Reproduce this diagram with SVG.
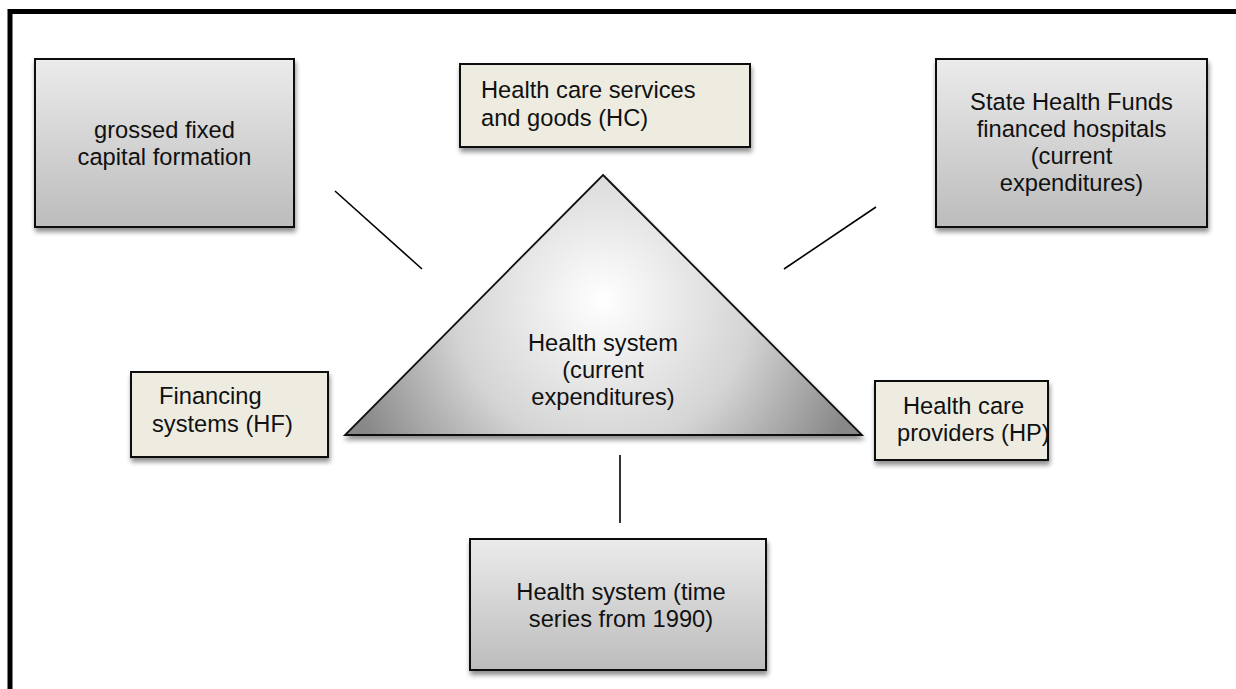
<svg xmlns="http://www.w3.org/2000/svg" width="1236" height="689" viewBox="0 0 1236 689">
<defs>
<linearGradient id="gray" x1="0" y1="0" x2="0" y2="1">
<stop offset="0" stop-color="#ebebeb"/>
<stop offset="1" stop-color="#bcbcbc"/>
</linearGradient>
<radialGradient id="tri" gradientUnits="userSpaceOnUse" cx="603" cy="300" r="270">
<stop offset="0" stop-color="#ffffff"/>
<stop offset="0.55" stop-color="#d4d4d4"/>
<stop offset="1" stop-color="#888888"/>
</radialGradient>
<filter id="sh" x="-10%" y="-10%" width="125%" height="130%">
<feGaussianBlur in="SourceAlpha" stdDeviation="2.5"/>
<feOffset dx="1" dy="4" result="b"/>
<feComponentTransfer><feFuncA type="linear" slope="0.45"/></feComponentTransfer>
<feMerge><feMergeNode/><feMergeNode in="SourceGraphic"/></feMerge>
</filter>
</defs>
<style>
.g{fill:url(#gray);stroke:#111;stroke-width:2}
.b{fill:#eeece1;stroke:#111;stroke-width:2}
.t{font-family:"Liberation Sans",Arial,sans-serif;font-size:23.7px;fill:#111}
.c{text-anchor:middle}
.ln{stroke:#000;stroke-width:1.6;fill:none}
</style>
<rect x="10" y="11.5" width="1300" height="760" fill="none" stroke="#000" stroke-width="5"/>
<g id="connectors">
<line class="ln" x1="335" y1="191" x2="422" y2="269"/>
<line class="ln" x1="876" y1="207" x2="784" y2="269"/>
<line class="ln" x1="620" y1="455" x2="620" y2="523"/>
</g>
<g id="center">
<polygon points="603,175 862,435 345,435" fill="url(#tri)" stroke="#111" stroke-width="1.8" filter="url(#sh)"/>
<text class="t c" x="603" y="351">Health system</text>
<text class="t c" x="603" y="378">(current</text>
<text class="t c" x="603" y="405">expenditures)</text>
</g>
<g id="gfcf">
<rect class="g" x="35" y="59" width="259" height="168" filter="url(#sh)"/>
<text class="t c" x="164.5" y="138">grossed fixed</text>
<text class="t c" x="164.5" y="165">capital formation</text>
</g>
<g id="hc">
<rect class="b" x="460" y="64" width="290" height="83" filter="url(#sh)"/>
<text class="t" x="481" y="98">Health care services</text>
<text class="t" x="481" y="126">and goods (HC)</text>
</g>
<g id="shf">
<rect class="g" x="936" y="59" width="271" height="168" filter="url(#sh)"/>
<text class="t c" x="1071.5" y="110">State Health Funds</text>
<text class="t c" x="1071.5" y="137">financed hospitals</text>
<text class="t c" x="1071.5" y="164">(current</text>
<text class="t c" x="1071.5" y="191">expenditures)</text>
</g>
<g id="hf">
<rect class="b" x="131" y="372" width="197" height="85" filter="url(#sh)"/>
<text class="t" x="159" y="404">Financing</text>
<text class="t" x="152" y="432">systems (HF)</text>
</g>
<g id="hp">
<rect class="b" x="875" y="381" width="173" height="79" filter="url(#sh)"/>
<text class="t" x="903" y="414">Health care</text>
<text class="t" x="897" y="441">providers (HP)</text>
</g>
<g id="ts">
<rect class="g" x="470" y="539" width="296" height="131" filter="url(#sh)"/>
<text class="t c" x="621" y="600">Health system (time</text>
<text class="t c" x="621" y="627">series from 1990)</text>
</g>
</svg>
